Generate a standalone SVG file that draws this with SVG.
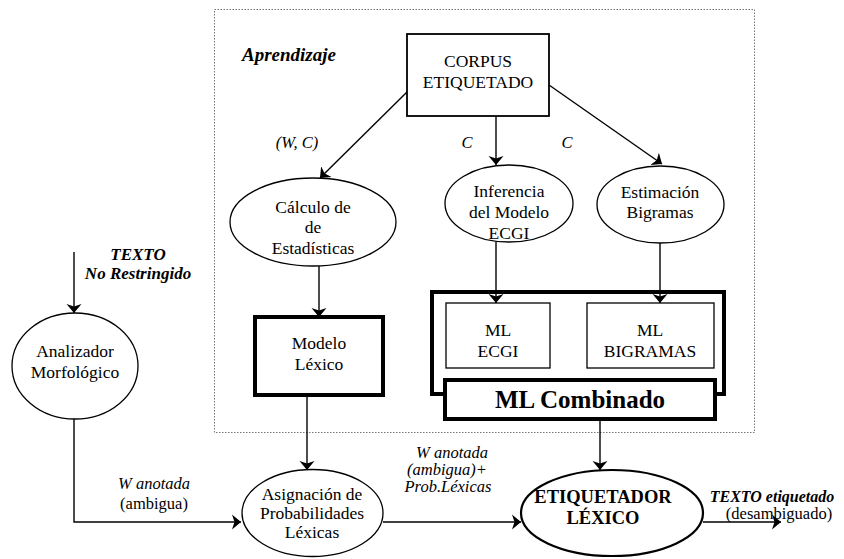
<svg xmlns="http://www.w3.org/2000/svg" width="844" height="559" viewBox="0 0 844 559">
<defs>
<marker id="ah" markerUnits="userSpaceOnUse" markerWidth="16" markerHeight="16" refX="9" refY="8" orient="auto" viewBox="0 0 16 16">
<path d="M0,0.5 L9,8 L0,15.5 L2.5,8 Z" fill="#000"/>
</marker>
<style>
text{font-family:"Liberation Serif","Times New Roman",serif;fill:#000;text-anchor:middle}
.n{font-size:17.5px}
.it{font-style:italic;font-size:16.5px}
.bi{font-style:italic;font-weight:bold;font-size:17px}
.b{font-weight:bold}
.thin{fill:#fff;stroke:#000;stroke-width:1.3}
.thick{fill:#fff;stroke:#000;stroke-width:4}
.ell{fill:#fff;stroke:#000;stroke-width:1.3}
.con{fill:none;stroke:#000;stroke-width:1.4;marker-end:url(#ah)}
</style>
</defs>
<rect width="844" height="559" fill="#fff"/>
<g id="aprendizaje">
<rect x="214.5" y="9.5" width="540" height="423" fill="none" stroke="#777" stroke-width="1" stroke-dasharray="1.5,1.5"/>
<text class="bi" x="242" y="61" style="font-size:19px;text-anchor:start">Aprendizaje</text>
</g>
<g id="corpus">
<rect class="thin" x="407" y="34" width="142" height="82" style="stroke-width:1.8"/>
<text class="n" x="478" y="67">CORPUS</text>
<text class="n" x="478" y="88">ETIQUETADO</text>
</g>
<g id="calculo">
<ellipse class="ell" cx="313" cy="222" rx="83" ry="44"/>
<text class="n" x="313" y="213">Cálculo de</text>
<text class="n" x="313" y="233">de</text>
<text class="n" x="313" y="254">Estadísticas</text>
</g>
<g id="inferencia">
<ellipse class="ell" cx="509" cy="203.5" rx="64" ry="38.5"/>
<text class="n" x="509" y="197">Inferencia</text>
<text class="n" x="509" y="218">del Modelo</text>
<text class="n" x="509" y="239">ECGI</text>
</g>
<g id="estimacion">
<ellipse class="ell" cx="660.5" cy="204.5" rx="63.5" ry="38.5"/>
<text class="n" x="660" y="198">Estimación</text>
<text class="n" x="660" y="218">Bigramas</text>
</g>
<g id="modelo-lexico">
<rect class="thick" x="255" y="317" width="128" height="78"/>
<text class="n" x="319" y="349">Modelo</text>
<text class="n" x="319" y="370">Léxico</text>
</g>
<g id="ml-container">
<rect class="thick" x="432" y="292" width="292" height="102"/>
</g>
<g id="ml-ecgi">
<rect class="thin" x="446" y="303" width="104" height="65"/>
<text class="n" x="498" y="336">ML</text>
<text class="n" x="498" y="357">ECGI</text>
</g>
<g id="ml-bigramas">
<rect class="thin" x="587" y="303" width="127" height="65"/>
<text class="n" x="650" y="336">ML</text>
<text class="n" x="650" y="357">BIGRAMAS</text>
</g>
<g id="ml-combinado">
<rect class="thick" x="445" y="380" width="270" height="39"/>
<text class="b" x="580" y="408" style="font-size:25px">ML Combinado</text>
</g>
<g id="analizador">
<ellipse class="ell" cx="75" cy="366" rx="63" ry="53"/>
<text class="n" x="75" y="357">Analizador</text>
<text class="n" x="75" y="378">Morfológico</text>
</g>
<g id="asignacion">
<ellipse class="ell" cx="312.5" cy="513" rx="70.5" ry="43.5"/>
<text class="n" x="312" y="500">Asignación de</text>
<text class="n" x="312" y="519">Probabilidades</text>
<text class="n" x="312" y="538">Léxicas</text>
</g>
<g id="etiquetador">
<ellipse class="ell" cx="612" cy="513" rx="91" ry="43" style="stroke-width:2.2"/>
<text class="b" x="603" y="503" style="font-size:18.5px">ETIQUETADOR</text>
<text class="b" x="603" y="524" style="font-size:18.5px">LÉXICO</text>
</g>
<g id="connectors">
<path class="con" d="M407,92 L320,178"/>
<path class="con" d="M496,116 L496,165"/>
<path class="con" d="M549,85 L662,164"/>
<path class="con" d="M319,266 L319,317"/>
<path class="con" d="M496,242 L496,303"/>
<path class="con" d="M660,243 L660,303"/>
<path class="con" d="M307,395 L307,470"/>
<path class="con" d="M600,419 L600,470"/>
<path class="con" d="M74,252 L74,313"/>
<path class="con" d="M74,419 L74,522 L241,522"/>
<path class="con" d="M383,522 L521,522"/>
<path class="con" d="M703,522 L781,522"/>
<text class="it" x="297" y="148">(W, C)</text>
<text class="it" x="467" y="148">C</text>
<text class="it" x="567" y="148">C</text>
<text class="bi" x="138" y="260">TEXTO</text>
<text class="bi" x="138" y="279">No Restringido</text>
<text class="it" x="154" y="489">W anotada</text>
<text class="n" x="154" y="509" style="font-size:16.5px">(ambigua)</text>
<text class="it" x="452" y="458">W anotada</text>
<text class="it" x="447" y="475">(ambigua)+</text>
<text class="it" x="448" y="492">Prob.Léxicas</text>
<text class="bi" x="772" y="502" style="font-size:16px">TEXTO etiquetado</text>
<text class="n" x="779" y="519" style="font-size:16.5px">(desambiguado)</text>
</g>
</svg>
